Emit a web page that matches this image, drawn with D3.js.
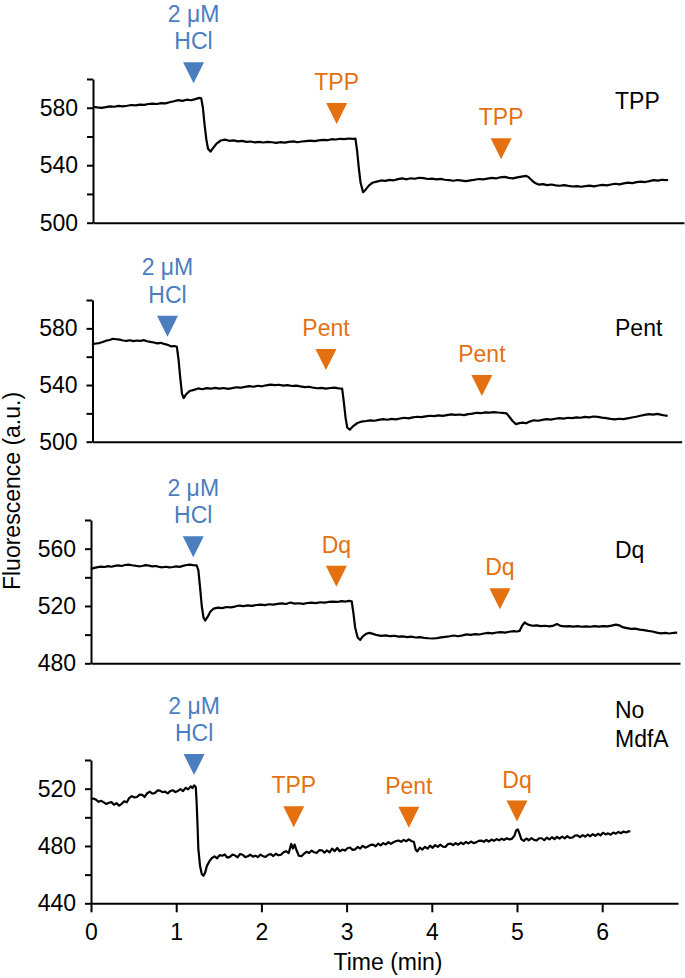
<!DOCTYPE html>
<html>
<head>
<meta charset="utf-8">
<script src="https://cdn.jsdelivr.net/npm/d3@7"></script>
<style>
  body { margin: 0; background: #fff; }
  svg text { font-family: "Liberation Sans", Arial, Helvetica, sans-serif; }
</style>
</head>
<body>
<svg id="chart" width="685" height="978"></svg>
<script>
// Time axis (min)
var timeTicks = [0, 1, 2, 3, 4, 5, 6];

// Panel names, top to bottom
var panelNames = ['TPP', 'Pent', 'Dq', 'No MdfA'];

// y ranges and ticks per panel (a.u.)
var yDomains = [[500, 600], [500, 600], [480, 580], [440, 540]];
var yTicks = [
    [500, 520, 540, 560, 580, 600],
    [500, 520, 540, 560, 580, 600],
    [480, 500, 520, 540, 560, 580],
    [440, 460, 480, 500, 520, 540]
];
var yTickLabels = [[500, 540, 580], [500, 540, 580], [480, 520, 560], [440, 480, 520]];

// Traces: [time (min), fluorescence (a.u.)]
var traceTPP = [
    [0.00, 580.6], [0.05, 580.2], [0.10, 579.9], [0.15, 580.4], [0.20, 581.0], [0.25, 580.7], [0.30, 581.3],
    [0.35, 581.0], [0.40, 581.4], [0.45, 581.9], [0.50, 581.6], [0.55, 582.2], [0.60, 582.0], [0.65, 582.6],
    [0.70, 582.9], [0.75, 582.6], [0.80, 583.2], [0.85, 583.0], [0.90, 583.8], [0.95, 584.5], [1.00, 585.3],
    [1.05, 584.8], [1.10, 585.6], [1.15, 585.2], [1.20, 586.0], [1.25, 586.9], [1.27, 586.6], [1.29, 580],
    [1.31, 568], [1.33, 558], [1.35, 551.5], [1.38, 549.5], [1.41, 552], [1.45, 555], [1.50, 557.2],
    [1.55, 557.8], [1.60, 557.0], [1.65, 557.3], [1.70, 556.6], [1.75, 556.9], [1.80, 556.2], [1.85, 556.5],
    [1.90, 555.9], [1.95, 556.2], [2.00, 555.8], [2.05, 556.3], [2.10, 556.0], [2.15, 555.6], [2.20, 556.1],
    [2.25, 555.7], [2.30, 556.2], [2.35, 556.6], [2.40, 556.0], [2.45, 556.5], [2.50, 556.8], [2.55, 557.1],
    [2.60, 556.8], [2.65, 557.3], [2.70, 557.6], [2.75, 557.4], [2.80, 558.1], [2.85, 557.9], [2.90, 558.4],
    [2.95, 558.2], [3.00, 558.6], [3.05, 558.4], [3.08, 558.5], [3.10, 550], [3.12, 538], [3.14, 528],
    [3.17, 521.2], [3.20, 523], [3.24, 526], [3.28, 527.8], [3.33, 528.6], [3.38, 529.4], [3.43, 529.1],
    [3.48, 529.8], [3.53, 529.5], [3.58, 530.3], [3.63, 530.8], [3.68, 530.2], [3.73, 530.9], [3.78, 530.6],
    [3.83, 531.3], [3.88, 531.0], [3.93, 530.4], [3.98, 530.7], [4.03, 530.1], [4.08, 530.5], [4.13, 529.9],
    [4.18, 529.6], [4.23, 529.2], [4.28, 529.7], [4.33, 529.3], [4.38, 528.9], [4.43, 529.4], [4.48, 529.9],
    [4.53, 530.4], [4.58, 530.1], [4.63, 530.7], [4.68, 531.2], [4.73, 530.8], [4.78, 531.6], [4.83, 531.9],
    [4.88, 531.2], [4.93, 530.8], [4.98, 531.5], [5.03, 532.1], [5.08, 532.6], [5.11, 531.8], [5.15, 529.5],
    [5.19, 527.6], [5.23, 526.5], [5.28, 526.8], [5.33, 526.2], [5.38, 526.6], [5.43, 526.0], [5.48, 525.7],
    [5.53, 526.1], [5.58, 525.6], [5.63, 525.2], [5.68, 525.5], [5.73, 525.0], [5.78, 525.4], [5.83, 525.8],
    [5.88, 525.3], [5.93, 525.9], [5.98, 526.3], [6.03, 526.0], [6.08, 526.6], [6.13, 527.1], [6.18, 526.7],
    [6.23, 527.4], [6.28, 527.9], [6.33, 527.5], [6.38, 528.2], [6.43, 528.6], [6.48, 528.3], [6.53, 528.9],
    [6.58, 529.6], [6.63, 529.3], [6.68, 529.9], [6.72, 529.6], [6.75, 529.7]
];

var tracePent = [
    [0.00, 568.8], [0.04, 569.3], [0.08, 569.6], [0.12, 570.4], [0.16, 571.3], [0.20, 571.8], [0.24, 572.6],
    [0.28, 572.3], [0.32, 572.0], [0.36, 571.4], [0.40, 571.1], [0.44, 571.6], [0.48, 571.0], [0.52, 571.4],
    [0.56, 571.1], [0.60, 571.7], [0.64, 570.9], [0.68, 570.4], [0.72, 570.0], [0.76, 569.4], [0.80, 569.8],
    [0.84, 569.0], [0.88, 568.4], [0.92, 567.3], [0.96, 567.5], [0.99, 567.0], [1.01, 558], [1.03, 545],
    [1.05, 534], [1.07, 530.8], [1.10, 533.5], [1.14, 535.8], [1.19, 536.6], [1.24, 537.6], [1.29, 537.0],
    [1.34, 537.8], [1.39, 537.4], [1.44, 538.0], [1.49, 537.5], [1.54, 537.9], [1.59, 537.3], [1.64, 537.8],
    [1.69, 538.4], [1.74, 538.1], [1.79, 538.7], [1.84, 539.2], [1.89, 538.8], [1.94, 539.5], [1.99, 539.1],
    [2.04, 539.8], [2.09, 540.3], [2.14, 539.9], [2.19, 540.2], [2.24, 539.6], [2.29, 539.9], [2.34, 539.3],
    [2.39, 539.6], [2.44, 539.0], [2.49, 538.5], [2.54, 538.8], [2.59, 538.1], [2.64, 537.7], [2.69, 538.0],
    [2.74, 537.5], [2.79, 537.9], [2.84, 538.2], [2.89, 537.6], [2.93, 537.4], [2.95, 528], [2.97, 517],
    [2.99, 510], [3.02, 508.4], [3.06, 511], [3.11, 513.2], [3.16, 514.2], [3.21, 514.6], [3.26, 515.1],
    [3.31, 514.8], [3.36, 515.4], [3.41, 515.9], [3.46, 515.5], [3.51, 516.1], [3.56, 515.8], [3.61, 516.4],
    [3.66, 516.9], [3.71, 516.5], [3.76, 517.2], [3.81, 517.6], [3.86, 517.3], [3.91, 517.9], [3.96, 518.3],
    [4.01, 518.0], [4.06, 518.6], [4.11, 518.2], [4.16, 518.8], [4.21, 519.3], [4.26, 518.9], [4.31, 519.2],
    [4.36, 518.8], [4.41, 519.5], [4.46, 519.8], [4.51, 520.4], [4.56, 520.1], [4.61, 520.7], [4.66, 520.5],
    [4.71, 520.9], [4.76, 520.6], [4.81, 520.4], [4.86, 520.0], [4.89, 517.8], [4.93, 514.6], [4.97, 512.4],
    [5.01, 513.1], [5.05, 513.5], [5.09, 513.0], [5.13, 514.2], [5.18, 515.1], [5.23, 514.8], [5.28, 515.4],
    [5.33, 515.9], [5.38, 515.6], [5.43, 516.2], [5.48, 516.6], [5.53, 516.3], [5.58, 516.9], [5.63, 516.6],
    [5.68, 517.2], [5.73, 516.9], [5.78, 517.5], [5.83, 517.2], [5.88, 517.8], [5.93, 517.5], [5.98, 517.0],
    [6.03, 516.6], [6.08, 516.1], [6.13, 515.8], [6.18, 516.2], [6.23, 515.9], [6.28, 516.5], [6.33, 517.1],
    [6.38, 517.6], [6.43, 518.3], [6.48, 518.9], [6.53, 519.4], [6.58, 519.1], [6.63, 519.6], [6.68, 518.9],
    [6.72, 518.5], [6.75, 518.2]
];

var traceDq = [
    [0.00, 545.8], [0.04, 546.6], [0.08, 547.1], [0.12, 547.5], [0.16, 547.2], [0.20, 547.8], [0.24, 547.4],
    [0.28, 548.0], [0.32, 548.3], [0.36, 547.9], [0.40, 548.6], [0.44, 548.9], [0.48, 548.4], [0.52, 548.1],
    [0.56, 547.7], [0.60, 547.9], [0.64, 548.5], [0.68, 548.2], [0.72, 547.6], [0.76, 547.9], [0.80, 547.3],
    [0.84, 547.0], [0.88, 547.4], [0.92, 546.9], [0.96, 547.2], [1.00, 547.6], [1.04, 547.3], [1.08, 548.0],
    [1.12, 548.6], [1.16, 548.9], [1.20, 548.5], [1.24, 548.3], [1.26, 545], [1.28, 533], [1.30, 520],
    [1.32, 512], [1.34, 509.8], [1.37, 512.5], [1.40, 516], [1.44, 518.2], [1.49, 518.9], [1.54, 518.5],
    [1.59, 519.3], [1.64, 519.0], [1.69, 519.6], [1.74, 520.3], [1.79, 519.9], [1.84, 520.4], [1.89, 520.1],
    [1.94, 520.7], [1.99, 521.0], [2.04, 520.6], [2.09, 521.2], [2.14, 520.9], [2.19, 521.5], [2.24, 521.8],
    [2.29, 521.4], [2.34, 522.4], [2.39, 521.6], [2.44, 521.9], [2.49, 521.5], [2.54, 522.1], [2.59, 522.4],
    [2.64, 522.0], [2.69, 522.6], [2.74, 522.3], [2.79, 522.8], [2.84, 523.1], [2.89, 522.8], [2.94, 523.4],
    [2.99, 523.1], [3.03, 523.6], [3.06, 523.3], [3.08, 515], [3.10, 505], [3.13, 498], [3.16, 496.3],
    [3.19, 498.8], [3.23, 500.6], [3.27, 501.2], [3.31, 500.5], [3.36, 499.6], [3.41, 499.2], [3.46, 499.5],
    [3.51, 498.9], [3.56, 499.2], [3.61, 498.6], [3.66, 498.8], [3.71, 498.3], [3.76, 498.6], [3.81, 498.0],
    [3.86, 498.3], [3.91, 497.8], [3.96, 497.5], [4.01, 497.3], [4.06, 497.6], [4.11, 498.1], [4.16, 498.5],
    [4.21, 498.9], [4.26, 499.4], [4.31, 498.9], [4.36, 499.5], [4.41, 500.2], [4.46, 499.8], [4.51, 500.4],
    [4.56, 500.1], [4.61, 500.8], [4.66, 501.2], [4.71, 500.9], [4.76, 501.5], [4.81, 501.8], [4.86, 501.4],
    [4.91, 502.0], [4.96, 502.4], [5.00, 502.2], [5.03, 502.6], [5.06, 506.2], [5.09, 508.5], [5.13, 507.0],
    [5.18, 506.2], [5.23, 506.5], [5.28, 505.9], [5.33, 506.2], [5.38, 505.8], [5.43, 506.3], [5.47, 507.4],
    [5.51, 506.1], [5.56, 505.8], [5.61, 506.0], [5.66, 505.6], [5.71, 505.9], [5.76, 505.5], [5.81, 505.8],
    [5.86, 505.5], [5.91, 505.9], [5.96, 505.6], [6.01, 505.9], [6.06, 505.8], [6.11, 506.3], [6.16, 507.0],
    [6.20, 506.5], [6.24, 505.2], [6.29, 504.6], [6.34, 504.0], [6.39, 504.2], [6.44, 503.5], [6.49, 503.1],
    [6.54, 502.6], [6.59, 502.2], [6.64, 501.4], [6.69, 500.9], [6.74, 501.2], [6.79, 500.8], [6.84, 501.3],
    [6.88, 501.4]
];

var traceNoMdfA = [
    [0.00, 512.6], [0.03, 513.1], [0.06, 512.2], [0.09, 510.8], [0.12, 511.5], [0.15, 510.4], [0.18, 509.3],
    [0.21, 510.2], [0.24, 510.6], [0.27, 508.8], [0.30, 509.9], [0.33, 508.1], [0.36, 509.4], [0.39, 511.2],
    [0.42, 510.5], [0.45, 513.6], [0.48, 514.8], [0.51, 513.9], [0.54, 514.2], [0.57, 515.8], [0.60, 515.6],
    [0.63, 514.2], [0.66, 516.8], [0.69, 517.9], [0.72, 516.6], [0.75, 516.9], [0.78, 518.8], [0.81, 518.6],
    [0.84, 517.5], [0.87, 517.9], [0.90, 516.7], [0.93, 518.3], [0.96, 518.9], [0.99, 517.6], [1.02, 518.4],
    [1.05, 519.7], [1.08, 518.3], [1.11, 520.6], [1.14, 519.5], [1.17, 521.6], [1.19, 520.4], [1.21, 522.3],
    [1.23, 521.0], [1.24, 510], [1.25, 495], [1.26, 478], [1.28, 466], [1.30, 460.5], [1.32, 459.2],
    [1.34, 461.5], [1.36, 466.0], [1.39, 469.4], [1.42, 471.6], [1.45, 472.8], [1.48, 471.4], [1.51, 473.6],
    [1.54, 473.2], [1.57, 474.1], [1.60, 471.9], [1.63, 472.4], [1.66, 474.0], [1.69, 473.4], [1.72, 472.1],
    [1.75, 474.4], [1.78, 473.9], [1.81, 472.2], [1.84, 472.8], [1.87, 473.9], [1.90, 472.6], [1.93, 473.2],
    [1.96, 472.3], [1.99, 474.0], [2.02, 472.8], [2.05, 472.4], [2.08, 473.9], [2.11, 474.3], [2.14, 473.0],
    [2.17, 474.6], [2.20, 473.5], [2.23, 473.9], [2.26, 475.6], [2.29, 476.4], [2.32, 475.0], [2.35, 481.4],
    [2.37, 478.2], [2.39, 481.0], [2.41, 477.4], [2.44, 473.2], [2.47, 472.8], [2.50, 474.6], [2.53, 475.9],
    [2.56, 475.1], [2.59, 476.8], [2.62, 475.6], [2.65, 475.2], [2.68, 477.1], [2.71, 477.0], [2.74, 475.4],
    [2.77, 476.9], [2.80, 475.6], [2.83, 478.2], [2.86, 476.4], [2.89, 478.6], [2.92, 476.3], [2.95, 477.5],
    [2.98, 476.8], [3.01, 478.4], [3.04, 478.9], [3.07, 477.3], [3.10, 477.6], [3.13, 479.3], [3.16, 478.2],
    [3.19, 480.1], [3.22, 478.8], [3.25, 479.6], [3.28, 480.8], [3.31, 481.0], [3.34, 479.8], [3.37, 481.6],
    [3.40, 480.4], [3.43, 482.0], [3.46, 481.1], [3.49, 482.7], [3.52, 481.5], [3.55, 482.6], [3.58, 483.4],
    [3.61, 483.8], [3.64, 482.9], [3.67, 484.2], [3.70, 483.3], [3.73, 484.6], [3.76, 483.5], [3.79, 482.8],
    [3.81, 477.6], [3.83, 476.2], [3.86, 478.9], [3.89, 477.5], [3.92, 479.4], [3.95, 478.1], [3.98, 480.2],
    [4.01, 478.7], [4.04, 480.6], [4.07, 479.4], [4.10, 480.9], [4.13, 479.6], [4.16, 479.3], [4.19, 481.4],
    [4.22, 481.7], [4.25, 480.6], [4.28, 482.0], [4.31, 480.9], [4.34, 482.4], [4.37, 481.3], [4.40, 482.8],
    [4.43, 481.8], [4.46, 483.1], [4.49, 482.0], [4.52, 482.5], [4.55, 483.6], [4.58, 483.8], [4.61, 482.9],
    [4.64, 484.2], [4.67, 483.1], [4.70, 484.5], [4.73, 483.6], [4.76, 484.8], [4.79, 483.9], [4.82, 485.1],
    [4.85, 484.2], [4.88, 485.4], [4.91, 484.6], [4.94, 485.0], [4.97, 487.2], [4.99, 490.8], [5.01, 491.6],
    [5.03, 488.4], [5.05, 484.8], [5.08, 483.6], [5.11, 485.2], [5.14, 484.0], [5.17, 485.5], [5.20, 484.3],
    [5.23, 483.8], [5.26, 485.4], [5.29, 485.4], [5.32, 484.0], [5.35, 485.9], [5.38, 484.6], [5.41, 486.1],
    [5.44, 484.8], [5.47, 486.4], [5.50, 485.1], [5.53, 486.6], [5.56, 485.3], [5.59, 486.9], [5.62, 485.6],
    [5.65, 485.9], [5.68, 487.3], [5.71, 487.4], [5.74, 486.2], [5.77, 487.6], [5.80, 486.5], [5.83, 487.9],
    [5.86, 486.8], [5.89, 488.2], [5.92, 487.1], [5.95, 488.5], [5.98, 487.4], [6.01, 489.2], [6.04, 488.1],
    [6.07, 488.8], [6.10, 487.9], [6.13, 489.4], [6.16, 488.6], [6.19, 489.8], [6.22, 488.9], [6.25, 490.1],
    [6.28, 489.4], [6.31, 490.3], [6.33, 490.0]
];

// Additions: time (min), level of the marker tip (a.u.), label lines, kind
var additionsTPP = [
    { time: 1.18, tip: 597, label: ['2 \u03bcM', 'HCl'], kind: 'acid' },
    { time: 2.86, tip: 568.7, label: ['TPP'], kind: 'drug' },
    { time: 4.79, tip: 544.1, label: ['TPP'], kind: 'drug' }
];
var additionsPent = [
    { time: 0.88, tip: 574.1, label: ['2 \u03bcM', 'HCl'], kind: 'acid' },
    { time: 2.74, tip: 550.6, label: ['Pent'], kind: 'drug' },
    { time: 4.57, tip: 532.3, label: ['Pent'], kind: 'drug' }
];
var additionsDq = [
    { time: 1.20, tip: 554, label: ['2 \u03bcM', 'HCl'], kind: 'acid' },
    { time: 2.88, tip: 533.5, label: ['Dq'], kind: 'drug' },
    { time: 4.80, tip: 517.7, label: ['Dq'], kind: 'drug' }
];
var additionsNoMdfA = [
    { time: 1.21, tip: 529.5, label: ['2 \u03bcM', 'HCl'], kind: 'acid' },
    { time: 2.38, tip: 493, label: ['TPP'], kind: 'drug' },
    { time: 3.73, tip: 492.8, label: ['Pent'], kind: 'drug' },
    { time: 5.00, tip: 497, label: ['Dq'], kind: 'drug' }
];

var traces = [traceTPP, tracePent, traceDq, traceNoMdfA];
var additions = [additionsTPP, additionsPent, additionsDq, additionsNoMdfA];

// Layout (pixels)
var layout = [
    { left: 93, right: 684, top: 79, bottom: 222.7, nameY: 109.3 },
    { left: 92.5, right: 681.7, top: 300, bottom: 441.7, nameY: 336 },
    { left: 91, right: 680, top: 520, bottom: 663.3, nameY: 558 },
    { left: 91, right: 678, top: 760, bottom: 903.3, nameY: 718 }
];
var pxPerMin = 85.2;
var colors = { acid: '#4a7ebf', drug: '#e4700f' };
var fontSize = 23;

var svg = d3.select('#chart');

layout.forEach(function (L, p) {
    var x = d3.scaleLinear()
        .domain([0, (L.right - L.left) / pxPerMin])
        .range([L.left, L.right]);
    var y = d3.scaleLinear()
        .domain(yDomains[p])
        .range([L.bottom, L.top]);

    var g = svg.append('g').attr('class', 'panel');

    // y axis
    var yAxis = d3.axisLeft(y)
        .tickValues(yTicks[p])
        .tickSize(6)
        .tickSizeOuter(0)
        .tickPadding(9)
        .tickFormat(function (d) {
            return yTickLabels[p].indexOf(d) >= 0 ? d : '';
        });

    var ya = g.append('g')
        .attr('transform', 'translate(' + L.left + ',0)')
        .call(yAxis);

    // x axis: only the bottom panel carries tick marks and labels
    var xa;
    if (p === layout.length - 1) {
        xa = g.append('g')
            .attr('transform', 'translate(0,' + L.bottom + ')')
            .call(d3.axisBottom(x)
                .tickValues(timeTicks)
                .tickFormat(d3.format('d'))
                .tickSize(9)
                .tickSizeOuter(0)
                .tickPadding(11));
    } else {
        xa = g.append('g')
            .attr('transform', 'translate(0,' + L.bottom + ')')
            .call(d3.axisBottom(x).tickValues([]).tickSizeOuter(0));
    }

    [ya, xa].forEach(function (a) {
        a.selectAll('path, line')
            .attr('stroke', '#000')
            .attr('stroke-width', 2);
        a.selectAll('text')
            .attr('fill', '#000')
            .style('font-size', fontSize + 'px');
    });

    // trace
    var line = d3.line()
        .x(function (d) { return x(d[0]); })
        .y(function (d) { return y(d[1]); });

    g.append('path')
        .datum(traces[p])
        .attr('d', line)
        .attr('fill', 'none')
        .attr('stroke', '#000')
        .attr('stroke-width', 2.2)
        .attr('stroke-linejoin', 'round');

    // addition markers
    var marks = g.selectAll('.add')
        .data(additions[p])
        .enter().append('g')
        .attr('class', 'add')
        .attr('transform', function (d) {
            return 'translate(' + x(d.time) + ',' + y(d.tip) + ')';
        });

    marks.append('path')
        .attr('d', 'M0,0 L-10.5,-21 L10.5,-21 Z')
        .attr('fill', function (d) { return colors[d.kind]; });

    marks.each(function (d) {
        var m = d3.select(this);
        var n = d.label.length;
        d.label.forEach(function (t, i) {
            m.append('text')
                .attr('x', 0)
                .attr('y', -21 - 13 - (n - 1 - i) * 27.5)
                .attr('text-anchor', 'middle')
                .attr('fill', colors[d.kind])
                .style('font-size', fontSize + 'px')
                .text(t);
        });
    });

    // panel name
    var nameLines = panelNames[p].split(' ');
    nameLines.forEach(function (t, i) {
        g.append('text')
            .attr('x', 615)
            .attr('y', L.nameY + i * 28.7)
            .attr('fill', '#000')
            .style('font-size', fontSize + 'px')
            .text(t);
    });
});

// axis titles
svg.append('text')
    .attr('transform', 'translate(20,491) rotate(-90)')
    .attr('text-anchor', 'middle')
    .attr('fill', '#000')
    .style('font-size', fontSize + 'px')
    .text('Fluorescence (a.u.)');

svg.append('text')
    .attr('x', 388)
    .attr('y', 970)
    .attr('text-anchor', 'middle')
    .attr('fill', '#000')
    .style('font-size', fontSize + 'px')
    .text('Time (min)');
</script>
</body>
</html>
